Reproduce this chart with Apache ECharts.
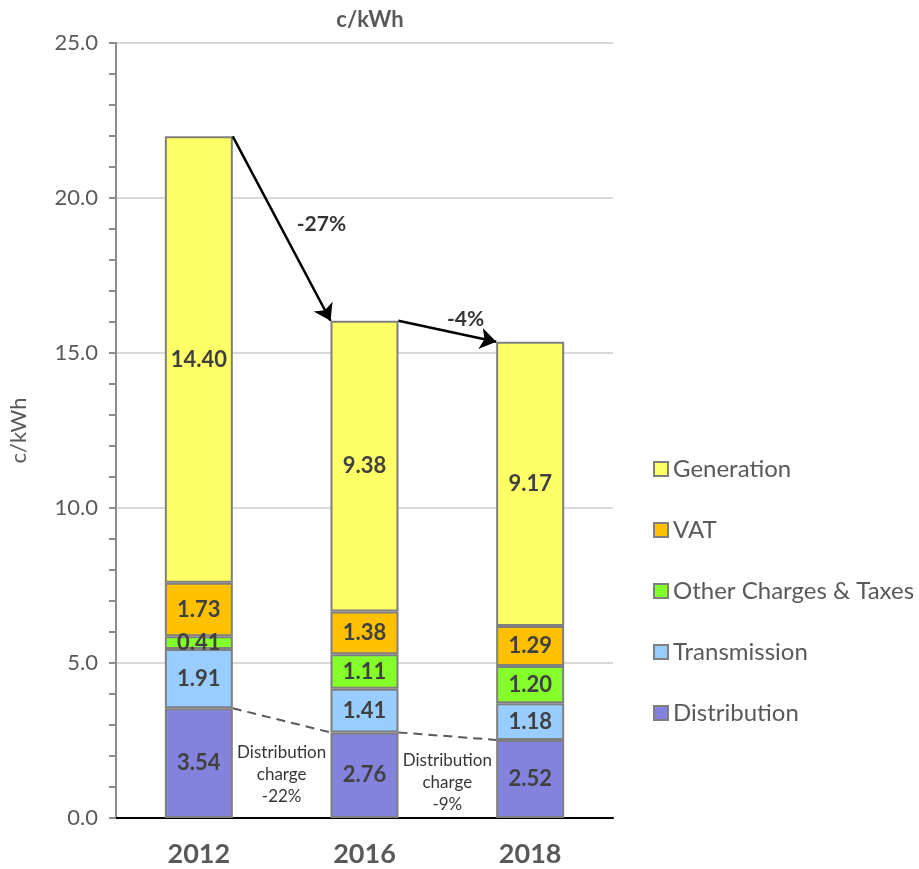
<!DOCTYPE html>
<html>
<head>
<meta charset="utf-8">
<script src="https://cdn.jsdelivr.net/npm/echarts@6/dist/echarts.min.js"></script>
<style>
  html, body { margin: 0; padding: 0; background: #fff; }
  #main { width: 919px; height: 869px; }
</style>
</head>
<body>
<div id="main"></div>
<script>
// data
var years = ['2012', '2016', '2018'];
var distribution = [3.54, 2.76, 2.52];
var transmission = [1.91, 1.41, 1.18];
var otherCharges = [0.41, 1.11, 1.20];
var vat = [1.73, 1.38, 1.29];
var generation = [14.40, 9.38, 9.17];
var changeLabels = ['-27%', '-4%'];
var distLabels = ['Distribution\ncharge\n-22%', 'Distribution\ncharge\n-9%'];

var FONT = 'Lato, "Open Sans", sans-serif';
var GRAY = '#595959';
var gridLeft = 115, gridRight = 306, barW = 68;
var catW = (919 - gridLeft - gridRight) / years.length;
var h = (barW / 2) / catW; // half bar width in category units

var totals = years.map(function (y, i) {
  return distribution[i] + transmission[i] + otherCharges[i] + vat[i] + generation[i];
});

function barSeries (name, data, color) {
  return {
    name: name,
    type: 'bar',
    stack: 'total',
    barWidth: barW,
    data: data,
    itemStyle: { color: color, borderColor: '#7f7f7f', borderWidth: 2 },
    label: {
      show: true,
      color: '#404040',
      fontFamily: FONT,
      fontWeight: 'bold',
      fontSize: 22,
      formatter: function (p) { return p.value.toFixed(2) }
    }
  }
}

// arrows between bar tops
var arrows = [];
var dashes = [];
for (var i = 0; i < years.length - 1; i++) {
  arrows.push({ coords: [[i + 0.5 + h, totals[i]], [i + 1.5 - h, totals[i + 1]]] });
  dashes.push({ coords: [[i + 0.5 + h, distribution[i]], [i + 1.5 - h, distribution[i + 1]]] });
}

var myChart = echarts.init(document.getElementById('main'));
myChart.setOption({
  animation: false,
  textStyle: { fontFamily: FONT },
  title: {
    text: 'c/kWh',
    left: 365,
    top: 4,
    textAlign: 'center',
    textStyle: { fontFamily: FONT, fontSize: 22, fontWeight: 'bold', color: GRAY }
  },
  legend: {
    orient: 'vertical',
    left: 648,
    top: 452,
    icon: 'rect',
    itemWidth: 14,
    itemHeight: 14,
    itemGap: 37,
    data: ['Generation', 'VAT', 'Other Charges & Taxes', 'Transmission', 'Distribution'],
    textStyle: { fontFamily: FONT, fontSize: 24, color: GRAY, padding: [0, 0, 0, 0] }
  },
  grid: { left: gridLeft, right: gridRight, top: 43, bottom: 51 },
  xAxis: [
    {
      type: 'category',
      data: years,
      axisLine: { lineStyle: { color: '#000', width: 2 } },
      axisTick: { show: false },
      axisLabel: { color: GRAY, fontFamily: FONT, fontSize: 27, fontWeight: 'bold', margin: 23 }
    },
    {
      type: 'value',
      min: 0,
      max: years.length,
      show: false
    }
  ],
  yAxis: {
    type: 'value',
    min: 0,
    max: 25,
    interval: 5,
    name: 'c/kWh',
    nameLocation: 'middle',
    nameGap: 86,
    nameTextStyle: { color: GRAY, fontFamily: FONT, fontSize: 22 },
    axisLine: { show: true, lineStyle: { color: '#8c8c8c', width: 2 } },
    axisTick: { show: true, length: 7, lineStyle: { color: '#8c8c8c', width: 2 } },
    minorTick: { show: true, splitNumber: 5, length: 7, lineStyle: { color: '#8c8c8c', width: 2 } },
    axisLabel: {
      color: GRAY, fontFamily: FONT, fontSize: 22, margin: 18,
      formatter: function (v) { return v.toFixed(1) }
    },
    splitLine: { lineStyle: { color: '#d9d9d9', width: 2 } }
  },
  series: [
    barSeries('Distribution', distribution, '#8383dd'),
    barSeries('Transmission', transmission, '#99ccff'),
    barSeries('Other Charges & Taxes', otherCharges, '#84ff2a'),
    barSeries('VAT', vat, '#ffc000'),
    barSeries('Generation', generation, '#ffff66'),
    {
      type: 'lines',
      coordinateSystem: 'cartesian2d',
      xAxisIndex: 1,
      symbol: ['none', 'arrow'],
      symbolSize: 16,
      lineStyle: { color: '#000', width: 2.5, opacity: 1 },
      data: arrows,
      z: 5
    },
    {
      type: 'lines',
      coordinateSystem: 'cartesian2d',
      xAxisIndex: 1,
      lineStyle: { color: '#595959', width: 2, type: [9, 6], opacity: 1 },
      data: dashes,
      z: 5
    },
    {
      type: 'scatter',
      xAxisIndex: 1,
      symbolSize: 0,
      silent: true,
      data: [
        { value: [1.24, 19.15], name: changeLabels[0] },
        { value: [2.11, 16.1], name: changeLabels[1] }
      ],
      label: {
        show: true, position: 'inside', formatter: '{b}',
        color: '#000', fontFamily: FONT, fontSize: 21, fontWeight: 'bold'
      },
      z: 6
    },
    {
      type: 'scatter',
      xAxisIndex: 1,
      symbolSize: 0,
      silent: true,
      data: [
        { value: [1.0, 1.39], name: distLabels[0] },
        { value: [2.0, 1.16], name: distLabels[1] }
      ],
      label: {
        show: true, position: 'inside', formatter: '{b}',
        color: '#000', fontFamily: FONT, fontSize: 17, lineHeight: 22
      },
      z: 6
    }
  ]
});
</script>
</body>
</html>
